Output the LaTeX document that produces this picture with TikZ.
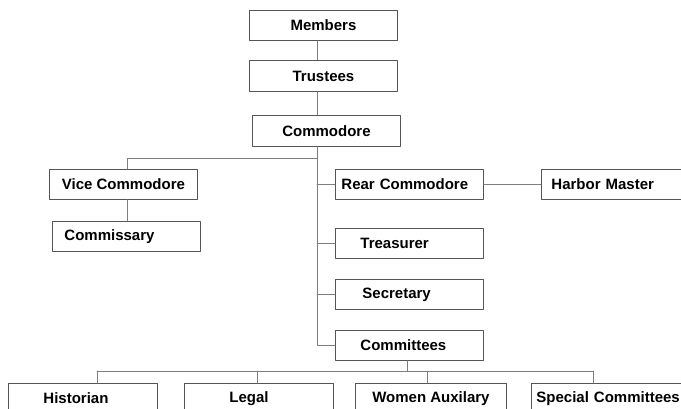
\documentclass[tikz,border=0pt]{standalone}
\usepackage{fontspec}
\setmainfont{Liberation Sans}
\definecolor{boxline}{RGB}{85,85,85}
\definecolor{wire}{RGB}{125,125,125}

\begin{document}
\begin{tikzpicture}[x=1pt,y=-1pt,line cap=round,line join=round,
    box/.style={draw=boxline,line width=0.9pt,anchor=north west,minimum width=148pt,minimum height=30pt,inner ysep=0pt,font=\bfseries\fontsize{15}{18}\selectfont},
    pad/.style 2 args={align=left,inner xsep=#1,text width=#2},
    link/.style={draw=wire,line width=0.9pt}]
        \useasboundingbox (0,0) rectangle (681,409);
        \clip (0,0) rectangle (681,409);
        % top of the chart
        \node[box] (members) at (249,10) {Members};
        \node[box,minimum height=31pt] (trustees) at (249,60) {Trustees};
        \node[box,minimum height=31pt] (commodore) at (252,115) {Commodore};
        \node[box] (vice) at (49,169) {Vice Commodore};
        \node[box,pad={12pt}{124pt}] (commissary) at (52,221) {Commissary};
        \node[box,pad={6pt}{136pt}] (rear) at (335,169) {Rear Commodore};
        \node[box,pad={10pt}{150pt}] (harbor) at (541,169) {Harbor Master};
        \node[box,pad={25pt}{98pt}] (treasurer) at (335,228) {Treasurer};
        \node[box,pad={27pt}{94pt}] (secretary) at (335,279) {Secretary};
        \node[box,pad={25pt}{98pt}] (committees) at (335,330) {Committees};
        % bottom row
        \node[box,pad={35pt}{79pt}] (historian) at (8,383) {Historian};
        \node[box,pad={45pt}{59pt}] (legal) at (184,383) {Legal};
        \node[box,minimum width=151pt] (women) at (355,383) {Women Auxilary};
        \node[box,pad={5pt}{160pt}] (special) at (531,383) {Special Committees};
        % connectors
        \coordinate (spine) at (317,0);
        \coordinate (vjoint) at (127,158);
        \coordinate (bus) at (407,371);
        \draw[link] (members.south -| spine) -- (trustees.north -| spine);
        \draw[link] (trustees.south -| spine) -- (commodore.north -| spine);
        \draw[link] (commodore.south -| spine) -- (spine |- committees.west) -- (committees.west);
        \draw[link] (vjoint -| spine) -- (vjoint) -- (vjoint |- vice.north);
        \draw[link] (vjoint |- vice.south) -- (vjoint |- commissary.north);
        \foreach \n in {rear,treasurer,secretary}
            \draw[link] (spine |- \n.west) -- (\n.west);
        \draw[link] (rear.east) -- (harbor.west);
        \draw[link] (bus |- committees.south) -- (bus);
        \draw[link] (97,371) -- (593,371);
        \foreach \n/\x in {historian/97,legal/257,women/427,special/593}
            \draw[link] (\x,371) -- (\x,0 |- \n.north);
\end{tikzpicture}
\end{document}
